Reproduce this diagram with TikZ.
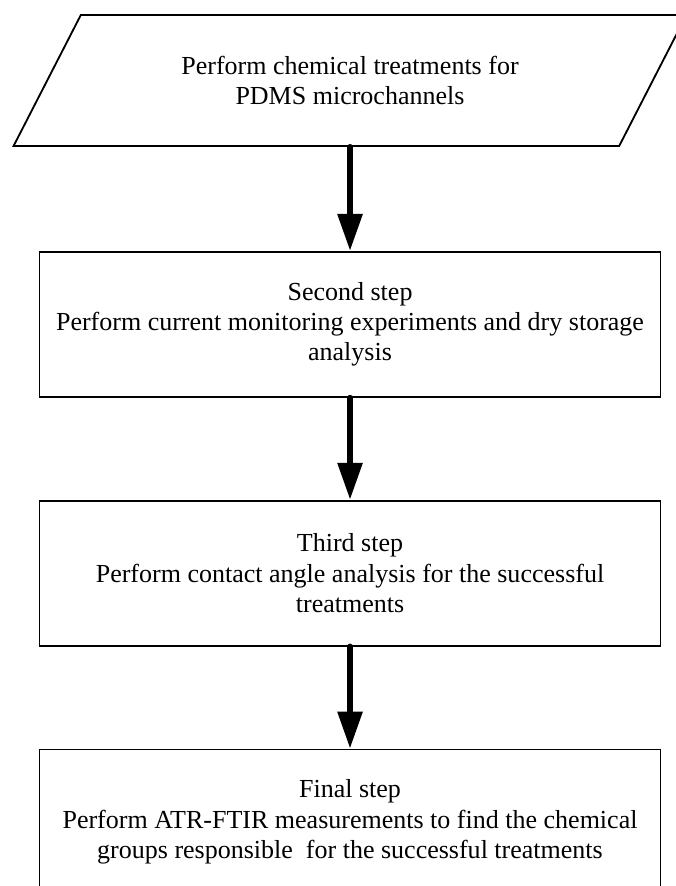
\documentclass[tikz,border=0pt]{standalone}
\usepackage{fontspec}
\setmainfont{Liberation Serif}
\usetikzlibrary{arrows.meta,positioning,shapes.geometric}
\newcommand{\stepfont}{\fontsize{18.5}{21.6}\selectfont}
\tikzset{
  io/.style={trapezium,trapezium left angle=53.4,trapezium right angle=126.6,
    trapezium stretches=true,draw,line width=1.3pt,minimum width=16.875cm,
    minimum height=3.275cm,align=center,font=\stepfont},
  stepbox/.style={draw,line width=1.3pt,minimum width=15.525cm,
    minimum height=3.625cm,align=center,font=\stepfont},
  flow/.style={-{Triangle[length=9.25mm,width=6mm]},line width=4.2pt,line cap=round},
}

\begin{document}
\begin{tikzpicture}
\useasboundingbox (0,0) rectangle (16.875,-22.15);
\node[io] (treat) at (8.75,-2.0125) {Perform chemical treatments for\\PDMS microchannels};
\node[stepbox,below=2.6cm of treat] (second) {Second step\\Perform current monitoring experiments and dry storage\\analysis};
\node[stepbox,below=2.55cm of second] (third) {Third step\\Perform contact angle analysis for the successful\\treatments};
\node[stepbox,below=2.55cm of third] (final) {Final step\\Perform ATR-FTIR measurements to find the chemical\\groups responsible~ for the successful treatments};
\foreach \a/\b in {treat/second,second/third,third/final}
  \draw[flow] (\a) -- (\b);
\end{tikzpicture}
\end{document}
